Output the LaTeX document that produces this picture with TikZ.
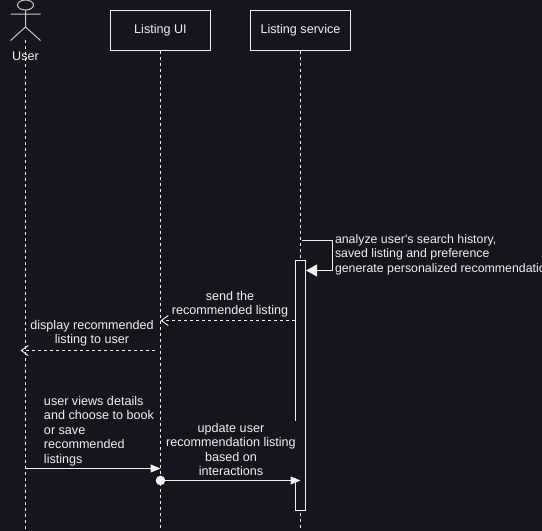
\documentclass[tikz,border=0pt]{standalone}
\usepackage{fontspec}
\setmainfont{Liberation Sans}
\usetikzlibrary{arrows.meta}
\definecolor{bgc}{HTML}{18141D}
\definecolor{fgc}{HTML}{F0F0F0}
\definecolor{actorc}{HTML}{C8C8C8}
\tikzset{
  x=1pt,y=-1pt,
  every node/.style={font=\fontsize{12.6}{14.4}\selectfont,text=fgc,inner sep=0pt,outer sep=0pt},
  partbox/.style={draw=fgc,line width=1pt,fill=bgc,minimum width=100pt,minimum height=40pt},
  lifeline/.style={draw=fgc,line width=1pt,dash pattern=on 3pt off 3pt},
  actorline/.style={draw=actorc,line width=1pt},
  actbox/.style={draw=fgc,line width=1pt,fill=bgc,minimum width=10pt,minimum height=250pt},
  msg/.style={draw=fgc,line width=1pt},
  reply/.style={msg,dash pattern=on 3pt off 3pt,-{Straight Barb[length=7pt,width=10pt,line width=0.9pt]}},
  call/.style={msg,-{Triangle[length=10pt,width=8pt,fill=fgc]}},
  bigcall/.style={msg,-{Triangle[length=11pt,width=12pt,fill=fgc]}},
  lblc/.style={align=center,fill=bgc,inner ysep=2pt,inner xsep=1pt},
  lbll/.style={align=left,anchor=west},
}
\begin{document}
\begin{tikzpicture}
\useasboundingbox (0,0) rectangle (542,531);
\fill[bgc] (0,0) rectangle (542,531);
\begin{scope}
\clip (0,0) rectangle (542,531);
% participants
\node[partbox] (ui) at (160.5,30.5) {Listing UI};
\node[partbox] (svc) at (300.5,30.5) {Listing service};
\coordinate (userfoot) at (25.5,40);
\coordinate (userend) at (25.5,531);
\coordinate (uiend) at (160.5,531);
\coordinate (svcend) at (300.5,531);
% lifelines
\draw[lifeline] (userfoot) -- (userend);
\draw[lifeline] (ui.south) -- (uiend);
\draw[lifeline] (svc.south) -- (svcend);
% actor
\draw[actorline] (25.5,5) ellipse [x radius=8,y radius=5];
\draw[actorline] (10.5,14) -- (40.5,14) (25.5,10) -- (25.5,27) (10.5,40.5) -- (25.5,27) -- (40.5,40.5);
\node (user) at (25.5,56) {User};
% activation
\node[actbox] (act) at (300.5,385.5) {};
% self call
\coordinate (selfa) at (302,240.5);
\coordinate (selfb) at (332.5,240.5);
\coordinate (selfc) at (332.5,270.5);
\coordinate (selfd) at (306,270.5);
\draw[bigcall] (selfa) -- (selfb) -- (selfc) -- (selfd);
\node[lbll,font=\fontsize{12.35}{14.4}\selectfont] (t1) at (335,254.5) {analyze user\textquotesingle s search history,\\saved listing and preference\\generate personalized recommendations};
% replies
\coordinate (sendS) at (295,320.5);
\coordinate (sendE) at (160.5,320.5);
\draw[reply] (sendS) -- (sendE);
\node[align=center] (t2) at (230,304) {send the\\recommended listing};
\coordinate (dispS) at (155,350.5);
\coordinate (dispE) at (20.5,350.5);
\draw[reply] (dispS) -- (dispE);
\node[align=center] (t3) at (92,333.5) {display recommended\\listing to user};
% user call
\coordinate (viewS) at (25.5,468.5);
\coordinate (viewE) at (160.5,468.5);
\draw[call] (viewS) -- (viewE);
\node[lbll] (t4) at (44,431) {user views details\\and choose to book\\or save\\recommended\\listings};
% update
\node[lblc] (t5) at (231,449.5) {update user\\recommendation listing\\based on\\interactions};
\fill[fgc] (160.5,480.5) circle (4.8) coordinate (dot);
\coordinate (updE) at (300.5,480.5);
\draw[call] (dot) -- (updE);
\end{scope}
\end{tikzpicture}
\end{document}
